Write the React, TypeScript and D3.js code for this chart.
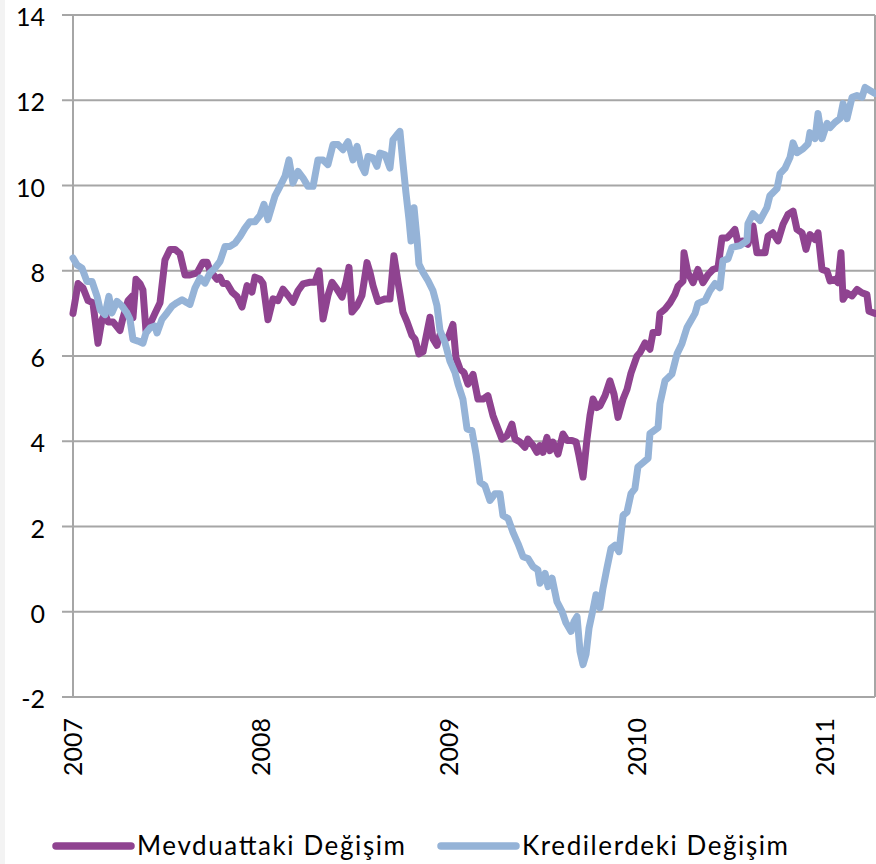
import * as d3 from 'd3'

// Haftalık değişim (%), okunan noktalar: [yıl (ondalık), değer]
const mevduat: [number, number][] = [
  [2007.000, 7.0], [2007.027, 7.7], [2007.053, 7.6], [2007.080, 7.3], [2007.106, 7.25],
  [2007.133, 6.3], [2007.154, 6.85], [2007.170, 7.0], [2007.186, 6.8], [2007.213, 6.8],
  [2007.250, 6.6], [2007.266, 6.9], [2007.293, 7.3], [2007.314, 7.4], [2007.319, 6.9],
  [2007.335, 7.8], [2007.356, 7.7], [2007.372, 7.55], [2007.388, 6.6], [2007.410, 6.75],
  [2007.436, 7.0], [2007.463, 7.25], [2007.489, 8.25], [2007.516, 8.5], [2007.543, 8.5],
  [2007.569, 8.4], [2007.596, 7.9], [2007.622, 7.9], [2007.660, 7.95], [2007.691, 8.2],
  [2007.713, 8.2], [2007.729, 8.0], [2007.766, 7.8], [2007.782, 7.85], [2007.798, 7.7],
  [2007.819, 7.7], [2007.846, 7.5], [2007.872, 7.4], [2007.899, 7.15], [2007.926, 7.65],
  [2007.952, 7.5], [2007.968, 7.85], [2007.995, 7.8], [2008.011, 7.7], [2008.037, 6.85],
  [2008.064, 7.34], [2008.090, 7.3], [2008.117, 7.57], [2008.144, 7.42], [2008.170, 7.26],
  [2008.197, 7.53], [2008.223, 7.69], [2008.261, 7.73], [2008.287, 7.73], [2008.309, 8.0],
  [2008.330, 6.87], [2008.356, 7.42], [2008.378, 7.73], [2008.404, 7.57], [2008.431, 7.38],
  [2008.452, 7.73], [2008.468, 8.08], [2008.484, 7.03], [2008.511, 7.18], [2008.537, 7.42],
  [2008.564, 8.19], [2008.580, 7.96], [2008.596, 7.65], [2008.622, 7.28], [2008.660, 7.34],
  [2008.686, 7.34], [2008.707, 8.35], [2008.729, 7.73], [2008.755, 7.03], [2008.777, 6.8],
  [2008.803, 6.48], [2008.819, 6.4], [2008.840, 6.05], [2008.862, 6.1], [2008.883, 6.56],
  [2008.899, 6.91], [2008.915, 6.4], [2008.936, 6.25], [2008.952, 6.5], [2008.979, 6.4],
  [2008.995, 6.43], [2009.021, 6.74], [2009.037, 5.96], [2009.059, 5.69], [2009.080, 5.61],
  [2009.101, 5.34], [2009.128, 5.57], [2009.154, 4.99], [2009.181, 4.99], [2009.207, 5.07],
  [2009.234, 4.6], [2009.261, 4.29], [2009.282, 4.05], [2009.309, 4.13], [2009.335, 4.4],
  [2009.351, 4.05], [2009.378, 3.98], [2009.404, 3.86], [2009.420, 4.05], [2009.447, 3.9],
  [2009.468, 3.74], [2009.484, 3.9], [2009.500, 3.74], [2009.521, 4.09], [2009.537, 3.78],
  [2009.553, 3.98], [2009.580, 3.7], [2009.606, 4.17], [2009.628, 4.02], [2009.654, 4.02],
  [2009.676, 3.98], [2009.691, 3.67], [2009.713, 3.16], [2009.734, 4.05], [2009.750, 4.6],
  [2009.766, 4.99], [2009.787, 4.79], [2009.803, 4.83], [2009.830, 5.07], [2009.856, 5.42],
  [2009.878, 5.1], [2009.899, 4.56], [2009.926, 4.99], [2009.947, 5.22], [2009.968, 5.6],
  [2010.000, 6.0], [2010.016, 6.08], [2010.043, 6.31], [2010.069, 6.16], [2010.085, 6.55],
  [2010.112, 6.55], [2010.122, 7.0], [2010.149, 7.1], [2010.176, 7.25], [2010.202, 7.45],
  [2010.218, 7.64], [2010.245, 7.76], [2010.250, 8.42], [2010.271, 7.95], [2010.298, 7.72],
  [2010.324, 8.03], [2010.351, 7.72], [2010.378, 7.91], [2010.404, 8.03], [2010.431, 8.07],
  [2010.452, 8.77], [2010.479, 8.77], [2010.505, 8.89], [2010.521, 8.97], [2010.537, 8.66],
  [2010.564, 8.7], [2010.590, 8.62], [2010.617, 9.05], [2010.638, 8.42], [2010.665, 8.42],
  [2010.681, 8.42], [2010.697, 8.81], [2010.723, 8.89], [2010.750, 8.7], [2010.777, 9.09],
  [2010.803, 9.32], [2010.830, 9.4], [2010.851, 8.97], [2010.878, 8.89], [2010.899, 8.5],
  [2010.920, 8.85], [2010.947, 8.73], [2010.963, 8.89], [2010.984, 8.03], [2011.011, 7.99],
  [2011.027, 7.76], [2011.053, 7.8], [2011.069, 7.72], [2011.085, 8.42], [2011.096, 7.33],
  [2011.117, 7.48], [2011.144, 7.41], [2011.170, 7.56], [2011.197, 7.48], [2011.223, 7.44],
  [2011.234, 7.05], [2011.266, 7.0],
]

const krediler: [number, number][] = [
  [2007.000, 8.3], [2007.021, 8.14], [2007.048, 8.06], [2007.074, 7.75], [2007.101, 7.75],
  [2007.128, 7.4], [2007.144, 7.09], [2007.170, 6.97], [2007.191, 7.4], [2007.207, 7.01],
  [2007.234, 7.28], [2007.261, 7.17], [2007.287, 7.01], [2007.303, 6.86], [2007.319, 6.39],
  [2007.346, 6.35], [2007.372, 6.3], [2007.388, 6.54], [2007.410, 6.66], [2007.436, 6.7],
  [2007.447, 6.54], [2007.473, 6.86], [2007.500, 7.01], [2007.527, 7.17], [2007.553, 7.25],
  [2007.580, 7.32], [2007.606, 7.25], [2007.622, 7.21], [2007.649, 7.6], [2007.676, 7.83],
  [2007.702, 7.71], [2007.729, 7.95], [2007.755, 8.06], [2007.782, 8.22], [2007.809, 8.57],
  [2007.835, 8.57], [2007.862, 8.65], [2007.888, 8.8], [2007.915, 9.0], [2007.941, 9.15],
  [2007.968, 9.15], [2007.995, 9.3], [2008.016, 9.56], [2008.037, 9.2], [2008.074, 9.75],
  [2008.101, 9.98], [2008.128, 10.22], [2008.149, 10.6], [2008.170, 10.06], [2008.197, 10.33],
  [2008.223, 10.18], [2008.250, 9.98], [2008.277, 9.98], [2008.303, 10.6], [2008.330, 10.6],
  [2008.356, 10.49], [2008.383, 10.96], [2008.410, 10.96], [2008.436, 10.84], [2008.463, 11.03],
  [2008.489, 10.6], [2008.511, 10.92], [2008.532, 10.49], [2008.553, 10.3], [2008.569, 10.68],
  [2008.596, 10.65], [2008.617, 10.45], [2008.633, 10.76], [2008.660, 10.72], [2008.686, 10.41],
  [2008.702, 11.07], [2008.723, 11.19], [2008.739, 11.27], [2008.755, 10.53], [2008.771, 9.83],
  [2008.787, 9.21], [2008.798, 8.7], [2008.814, 9.48], [2008.830, 8.74], [2008.840, 8.16],
  [2008.862, 7.96], [2008.888, 7.77], [2008.915, 7.53], [2008.936, 7.18], [2008.952, 6.6],
  [2008.979, 6.31], [2009.005, 5.88], [2009.032, 5.61], [2009.048, 5.34], [2009.074, 4.99],
  [2009.096, 4.29], [2009.122, 4.25], [2009.144, 3.7], [2009.165, 3.04], [2009.191, 2.96],
  [2009.218, 2.61], [2009.245, 2.77], [2009.271, 2.77], [2009.287, 2.26], [2009.314, 2.19],
  [2009.340, 1.87], [2009.367, 1.6], [2009.394, 1.29], [2009.420, 1.25], [2009.447, 1.06],
  [2009.473, 0.98], [2009.484, 0.67], [2009.511, 0.9], [2009.527, 0.59], [2009.548, 0.79],
  [2009.574, 0.24], [2009.601, 0.01], [2009.622, -0.26], [2009.649, -0.46], [2009.665, -0.23],
  [2009.681, -0.11], [2009.697, -0.93], [2009.713, -1.24], [2009.729, -1.0], [2009.745, -0.38],
  [2009.766, 0.05], [2009.782, 0.4], [2009.803, 0.09], [2009.819, 0.55], [2009.840, 1.02],
  [2009.862, 1.49], [2009.883, 1.56], [2009.904, 1.41], [2009.926, 2.26], [2009.947, 2.34],
  [2009.968, 2.77], [2009.989, 2.89], [2010.005, 3.4], [2010.032, 3.5], [2010.059, 3.6],
  [2010.069, 4.18], [2010.112, 4.32], [2010.122, 4.88], [2010.149, 5.42], [2010.186, 5.58],
  [2010.213, 6.05], [2010.239, 6.29], [2010.266, 6.67], [2010.309, 7.0], [2010.324, 7.23],
  [2010.362, 7.3], [2010.388, 7.53], [2010.415, 7.7], [2010.441, 7.6], [2010.457, 8.24],
  [2010.484, 8.28], [2010.505, 8.55], [2010.548, 8.59], [2010.585, 8.7], [2010.590, 9.1],
  [2010.617, 9.34], [2010.654, 9.18], [2010.691, 9.48], [2010.707, 9.76], [2010.745, 9.93],
  [2010.761, 10.28], [2010.787, 10.4], [2010.814, 10.66], [2010.830, 11.0], [2010.851, 10.77],
  [2010.883, 10.86], [2010.910, 10.98], [2010.920, 11.24], [2010.947, 11.1], [2010.963, 11.69],
  [2010.984, 11.1], [2011.011, 11.46], [2011.027, 11.36], [2011.053, 11.48], [2011.080, 11.57],
  [2011.096, 11.92], [2011.117, 11.57], [2011.144, 12.07], [2011.170, 12.11], [2011.197, 12.07],
  [2011.213, 12.3], [2011.239, 12.23], [2011.266, 12.16],
]

const yTicks = [-2, 0, 2, 4, 6, 8, 10, 12, 14]
const yearTicks = [2007, 2008, 2009, 2010, 2011]
const seriesNames = ['Mevduattaki Değişim', 'Kredilerdeki Değişim']
const seriesColors = ['#8f4390', '#95b3d7']

const FONT = 'Lato, "Open Sans", sans-serif'
const GRID = '#a6a6a6'

export default function App() {
  const W = 876
  const H = 864
  const left = 73
  const right = 875
  const top = 15
  const bottom = 697

  const x = d3.scaleLinear().domain([2007, 2011.266]).range([left, right])
  const y = d3.scaleLinear().domain([-2, 14]).range([bottom, top])

  const line = d3.line<[number, number]>()
    .x(d => x(d[0]))
    .y(d => y(d[1]))

  const series = [mevduat, krediler]

  return (
    <svg
      width={W}
      height={H}
      style={{ position: 'absolute', left: 0, top: 0, background: '#fff' }}
      fontFamily={FONT}
    >
      <rect x={0} y={0} width={5} height={H} fill="#f3f3f3" />

      {/* yatay kılavuz çizgileri ve y ekseni etiketleri */}
      {yTicks.map(t => (
        <g key={t}>
          <line x1={left - 11} x2={right} y1={y(t)} y2={y(t)} stroke={GRID} strokeWidth={2} />
          <text x={45} y={y(t) + 11} textAnchor="end" fontSize={25} fill="#000">
            {t}
          </text>
        </g>
      ))}
      <line x1={left} x2={left} y1={top} y2={bottom} stroke={GRID} strokeWidth={2} />
      <line x1={right} x2={right} y1={top} y2={bottom} stroke={GRID} strokeWidth={2} />

      {/* yıl etiketleri, dikey */}
      {yearTicks.map(t => (
        <text
          key={t}
          transform={`translate(${x(t)},718) rotate(-90)`}
          textAnchor="end"
          dy="0.36em"
          fontSize={25}
          fill="#000"
        >
          {t}
        </text>
      ))}

      {series.map((s, i) => (
        <path
          key={i}
          d={line(s) ?? ''}
          fill="none"
          stroke={seriesColors[i]}
          strokeWidth={7}
          strokeLinejoin="round"
          strokeLinecap="round"
        />
      ))}

      {/* lejant */}
      {seriesNames.map((name, i) => {
        const lx = [56, 441][i]
        return (
          <g key={name}>
            <line x1={lx} x2={lx + 75} y1={846} y2={846} stroke={seriesColors[i]} strokeWidth={7.5} strokeLinecap="round" />
            <text
              x={lx + 81}
              y={855}
              fontSize={26}
              fill="#000"
              textLength={[268, 266][i]}
              lengthAdjust="spacing"
            >
              {name}
            </text>
          </g>
        )
      })}
    </svg>
  )
}
